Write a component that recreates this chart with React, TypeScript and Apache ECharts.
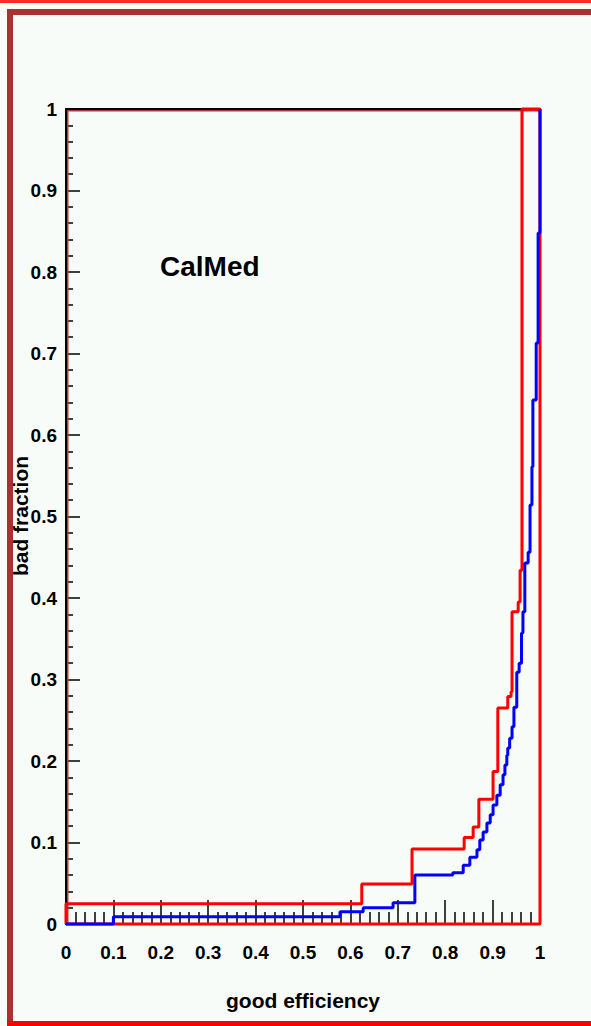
import React, { useEffect, useRef } from "react";
import * as echarts from "echarts";

const TITLE = "CalMed";
const X_NAME = "good efficiency";
const Y_NAME = "bad fraction";

// red curve: points where the step curve rises (x) and the new level (y); closed back along the axes
const redX = [0, 0, 0.624, 0.73, 0.84, 0.859, 0.871, 0.901, 0.911, 0.932, 0.939, 0.941, 0.954, 0.958, 0.962, 1, 1, 0];
const redY = [0, 0.025, 0.049, 0.092, 0.106, 0.119, 0.153, 0.187, 0.265, 0.279, 0.285, 0.383, 0.395, 0.434, 1, 1, 0, 0];

// blue curve
const blueX = [0, 0.1, 0.578, 0.627, 0.69, 0.736, 0.816, 0.838, 0.852, 0.867, 0.873, 0.88, 0.888, 0.895, 0.901, 0.909, 0.916, 0.922, 0.926, 0.93, 0.932, 0.936, 0.941, 0.945, 0.951, 0.956, 0.961, 0.964, 0.968, 0.975, 0.979, 0.983, 0.985, 0.992, 0.996, 1.0];
const blueY = [0, 0.009, 0.015, 0.02, 0.026, 0.06, 0.063, 0.072, 0.082, 0.091, 0.103, 0.113, 0.124, 0.134, 0.146, 0.158, 0.171, 0.183, 0.195, 0.207, 0.216, 0.228, 0.242, 0.266, 0.309, 0.32, 0.357, 0.383, 0.443, 0.456, 0.514, 0.561, 0.643, 0.713, 0.848, 1.0];

const AXIS_MIN = 0;
const AXIS_MAX = 1;
const AXIS_STEP = 0.1;

const FONT = "'Liberation Sans', Arial, Helvetica, sans-serif";

export default function App() {
  const ref = useRef<HTMLDivElement>(null);

  useEffect(() => {
    document.body.style.margin = "0";
    if (!ref.current) return;
    const chart = echarts.init(ref.current, undefined, { renderer: "svg" });
    const fmt = (v: number) => String(Math.round(v * 10) / 10);
    const tickStyle = { color: "#000", width: 1.5 };
    const labelStyle = {
      fontFamily: FONT,
      fontWeight: "bold" as const,
      fontSize: 19,
      color: "#000",
    };
    chart.setOption({
      animation: false,
      backgroundColor: "#f8fcf9",
      grid: {
        left: 66,
        top: 109,
        width: 474,
        height: 815,
        show: true,
        borderColor: "#000",
        borderWidth: 2,
        containLabel: false,
        outerBoundsMode: "none",
      },
      xAxis: {
        type: "value",
        min: AXIS_MIN,
        max: AXIS_MAX,
        interval: AXIS_STEP,
        name: X_NAME,
        nameLocation: "middle",
        nameGap: 66,
        nameTextStyle: { ...labelStyle, fontSize: 21 },
        axisLine: { show: true, onZero: false, lineStyle: { color: "#000", width: 2 } },
        axisTick: { show: true, inside: true, length: 24, lineStyle: tickStyle },
        minorTick: { show: true, splitNumber: 5, length: 12, lineStyle: tickStyle },
        splitLine: { show: false },
        axisLabel: { ...labelStyle, margin: 19, formatter: fmt, showMinLabel: true, showMaxLabel: true },
      },
      yAxis: {
        type: "value",
        min: AXIS_MIN,
        max: AXIS_MAX,
        interval: AXIS_STEP,
        axisLine: { show: true, onZero: false, lineStyle: { color: "#000", width: 2 } },
        axisTick: { show: true, inside: true, length: 14, lineStyle: tickStyle },
        minorTick: { show: true, splitNumber: 5, length: 7, lineStyle: tickStyle },
        splitLine: { show: false },
        axisLabel: { ...labelStyle, margin: 9, formatter: fmt, showMinLabel: true, showMaxLabel: true },
      },
      series: [
        {
          type: "line",
          step: "end",
          data: redX.map((x, i) => [x, redY[i]]),
          showSymbol: false,
          clip: false,
          lineStyle: { color: "#ff0000", width: 3 },
          z: 3,
        },
        {
          type: "line",
          step: "end",
          data: blueX.map((x, i) => [x, blueY[i]]),
          showSymbol: false,
          clip: false,
          lineStyle: { color: "#0000ff", width: 3 },
          z: 4,
        },
      ],
      graphic: [
        { type: "rect", shape: { x: 0, y: 0, width: 591, height: 3 }, style: { fill: "#ff2a2a" }, silent: true },
        { type: "rect", shape: { x: 7, y: 9, width: 584, height: 6 }, style: { fill: "#a83232" }, silent: true },
        { type: "rect", shape: { x: 7, y: 9, width: 6, height: 1014 }, style: { fill: "#a83232" }, silent: true },
        { type: "rect", shape: { x: 7, y: 1021, width: 584, height: 5 }, style: { fill: "#ff0000" }, silent: true },
        { type: "rect", shape: { x: 67, y: 110, width: 1.5, height: 814 }, style: { fill: "#b03a3a" }, silent: true, z: 1 },
        { type: "rect", shape: { x: 67, y: 110, width: 473, height: 1.5 }, style: { fill: "#b03a3a" }, silent: true, z: 1 },
        {
          type: "text",
          x: 20,
          y: 516,
          rotation: Math.PI / 2,
          style: {
            text: Y_NAME,
            fontFamily: FONT,
            fontWeight: "bold",
            fontSize: 21,
            fill: "#000",
            textAlign: "center",
            textVerticalAlign: "middle",
          },
          silent: true,
          z: 10,
        },
        {
          type: "text",
          x: 160,
          y: 266,
          style: {
            text: TITLE,
            fontFamily: FONT,
            fontWeight: "bold",
            fontSize: 28,
            fill: "#000",
            textVerticalAlign: "middle",
          },
          silent: true,
        },
      ],
    });
    return () => chart.dispose();
  }, []);

  return <div ref={ref} style={{ width: 591, height: 1026 }} />;
}
